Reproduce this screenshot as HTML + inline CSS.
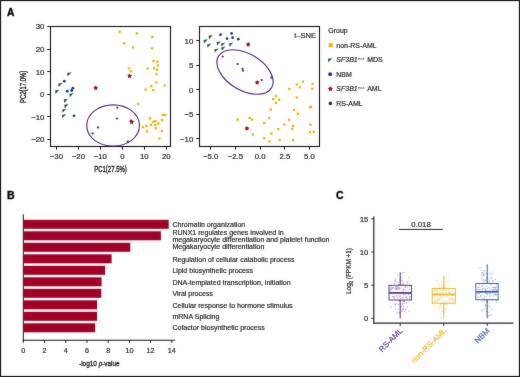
<!DOCTYPE html><html><head><meta charset="utf-8"><style>html,body{margin:0;padding:0;background:#fff;overflow:hidden}svg{display:block;will-change:transform}text{font-family:"Liberation Sans",sans-serif;fill:#1a1a1a;stroke:#1a1a1a;stroke-width:0.18px;paint-order:stroke}</style></head><body>
<svg width="520" height="377" viewBox="0 0 520 377"><defs><filter id="bl" x="0" y="0" width="520" height="377" filterUnits="userSpaceOnUse" color-interpolation-filters="sRGB"><feGaussianBlur in="SourceGraphic" stdDeviation="0.8" result="b"/><feComposite in="SourceGraphic" in2="b" operator="arithmetic" k1="0" k2="0.75" k3="0.25" k4="0"/></filter></defs><g filter="url(#bl)">
<rect x="0" y="0" width="520" height="377" fill="#fff"/>
<rect x="0.5" y="0.5" width="519" height="376" fill="none" stroke="#000" stroke-width="1.2"/>
<text x="7" y="16" font-size="10.3" font-weight="bold" style="fill:#000;stroke:#000;stroke-width:0.35px">A</text>
<text x="7" y="199" font-size="10.5" font-weight="bold" style="fill:#000;stroke:#000;stroke-width:0.35px">B</text>
<text x="336" y="199" font-size="10.5" font-weight="bold" style="fill:#000;stroke:#000;stroke-width:0.35px">C</text>
<rect x="50.5" y="26.5" width="120" height="120" fill="none" stroke="#111" stroke-width="1.1"/>
<line x1="47.3" y1="26.50" x2="50.5" y2="26.50" stroke="#111" stroke-width="1"/>
<text x="44.4" y="29.42" font-size="7.8" text-anchor="end">30</text>
<line x1="47.3" y1="49.50" x2="50.5" y2="49.50" stroke="#111" stroke-width="1"/>
<text x="44.4" y="51.98" font-size="7.8" text-anchor="end">20</text>
<line x1="47.3" y1="71.50" x2="50.5" y2="71.50" stroke="#111" stroke-width="1"/>
<text x="44.4" y="74.54" font-size="7.8" text-anchor="end">10</text>
<line x1="47.3" y1="94.50" x2="50.5" y2="94.50" stroke="#111" stroke-width="1"/>
<text x="44.4" y="97.10" font-size="7.8" text-anchor="end">0</text>
<line x1="47.3" y1="116.50" x2="50.5" y2="116.50" stroke="#111" stroke-width="1"/>
<text x="44.4" y="119.66" font-size="7.8" text-anchor="end">−10</text>
<line x1="47.3" y1="139.50" x2="50.5" y2="139.50" stroke="#111" stroke-width="1"/>
<text x="44.4" y="142.22" font-size="7.8" text-anchor="end">−20</text>
<line x1="56.50" y1="146.5" x2="56.50" y2="149.7" stroke="#111" stroke-width="1"/>
<text x="56.42" y="159.4" font-size="7.8" text-anchor="middle">−30</text>
<line x1="78.50" y1="146.5" x2="78.50" y2="149.7" stroke="#111" stroke-width="1"/>
<text x="78.38" y="159.4" font-size="7.8" text-anchor="middle">−20</text>
<line x1="100.50" y1="146.5" x2="100.50" y2="149.7" stroke="#111" stroke-width="1"/>
<text x="100.34" y="159.4" font-size="7.8" text-anchor="middle">−10</text>
<line x1="122.50" y1="146.5" x2="122.50" y2="149.7" stroke="#111" stroke-width="1"/>
<text x="122.30" y="159.4" font-size="7.8" text-anchor="middle">0</text>
<line x1="144.50" y1="146.5" x2="144.50" y2="149.7" stroke="#111" stroke-width="1"/>
<text x="144.26" y="159.4" font-size="7.8" text-anchor="middle">10</text>
<line x1="166.50" y1="146.5" x2="166.50" y2="149.7" stroke="#111" stroke-width="1"/>
<text x="166.22" y="159.4" font-size="7.8" text-anchor="middle">20</text>
<text x="110.5" y="171.8" font-size="8.3" textLength="32.5" lengthAdjust="spacingAndGlyphs" text-anchor="middle" style="stroke-width:0.35px">PC1(27.5%)</text>
<text transform="translate(26.2,86.8) rotate(-90)" x="0" y="0" font-size="8.3" textLength="32.2" lengthAdjust="spacingAndGlyphs" text-anchor="middle" style="stroke-width:0.35px">PC2(17.0%)</text>
<ellipse cx="113.1" cy="125.5" rx="26.4" ry="20.6" fill="none" stroke="#4E2272" stroke-width="1.1"/>
<rect x="118.65" y="30.65" width="2.30" height="2.30" fill="#E8B000"/>
<rect x="135.65" y="32.25" width="2.30" height="2.30" fill="#E8B000"/>
<rect x="151.25" y="35.65" width="2.30" height="2.30" fill="#E8B000"/>
<rect x="123.05" y="42.15" width="2.30" height="2.30" fill="#E8B000"/>
<rect x="131.95" y="46.25" width="2.30" height="2.30" fill="#E8B000"/>
<rect x="150.95" y="47.05" width="2.30" height="2.30" fill="#E8B000"/>
<rect x="152.35" y="59.95" width="2.30" height="2.30" fill="#E8B000"/>
<rect x="156.15" y="60.65" width="2.30" height="2.30" fill="#E8B000"/>
<rect x="156.85" y="64.25" width="2.30" height="2.30" fill="#E8B000"/>
<rect x="146.45" y="67.35" width="2.30" height="2.30" fill="#E8B000"/>
<rect x="153.05" y="67.15" width="2.30" height="2.30" fill="#E8B000"/>
<rect x="155.85" y="68.65" width="2.30" height="2.30" fill="#E8B000"/>
<rect x="127.65" y="67.15" width="2.30" height="2.30" fill="#E8B000"/>
<rect x="129.75" y="70.15" width="2.30" height="2.30" fill="#E8B000"/>
<rect x="155.35" y="73.05" width="2.30" height="2.30" fill="#E8B000"/>
<rect x="155.25" y="81.25" width="2.30" height="2.30" fill="#E8B000"/>
<rect x="163.55" y="84.25" width="2.30" height="2.30" fill="#E8B000"/>
<rect x="150.15" y="84.95" width="2.30" height="2.30" fill="#E8B000"/>
<rect x="144.45" y="88.45" width="2.30" height="2.30" fill="#E8B000"/>
<rect x="152.15" y="89.05" width="2.30" height="2.30" fill="#E8B000"/>
<rect x="137.15" y="102.85" width="2.30" height="2.30" fill="#E8B000"/>
<rect x="161.85" y="113.85" width="2.30" height="2.30" fill="#E8B000"/>
<rect x="164.15" y="113.85" width="2.30" height="2.30" fill="#E8B000"/>
<rect x="148.95" y="117.25" width="2.30" height="2.30" fill="#E8B000"/>
<rect x="152.05" y="120.75" width="2.30" height="2.30" fill="#E8B000"/>
<rect x="154.35" y="119.95" width="2.30" height="2.30" fill="#E8B000"/>
<rect x="160.95" y="119.05" width="2.30" height="2.30" fill="#E8B000"/>
<rect x="157.25" y="122.35" width="2.30" height="2.30" fill="#E8B000"/>
<rect x="149.75" y="123.75" width="2.30" height="2.30" fill="#E8B000"/>
<rect x="154.05" y="123.85" width="2.30" height="2.30" fill="#E8B000"/>
<rect x="145.15" y="124.75" width="2.30" height="2.30" fill="#E8B000"/>
<rect x="141.85" y="126.05" width="2.30" height="2.30" fill="#E8B000"/>
<rect x="154.55" y="126.95" width="2.30" height="2.30" fill="#E8B000"/>
<rect x="145.75" y="130.25" width="2.30" height="2.30" fill="#E8B000"/>
<rect x="160.75" y="129.85" width="2.30" height="2.30" fill="#E8B000"/>
<rect x="158.35" y="137.35" width="2.30" height="2.30" fill="#E8B000"/>
<polygon points="67.20,73.00 71.40,72.20 67.60,76.40" fill="#1A5334"/>
<polygon points="58.30,83.50 62.50,82.70 58.70,86.90" fill="#1A5334"/>
<polygon points="55.10,90.60 59.30,89.80 55.50,94.00" fill="#1A5334"/>
<polygon points="69.40,93.90 73.60,93.10 69.80,97.30" fill="#1A5334"/>
<polygon points="63.80,99.50 68.00,98.70 64.20,102.90" fill="#1A5334"/>
<polygon points="64.30,104.80 68.50,104.00 64.70,108.20" fill="#1A5334"/>
<polygon points="62.20,109.40 66.40,108.60 62.60,112.80" fill="#1A5334"/>
<polygon points="62.00,114.90 66.20,114.10 62.40,118.30" fill="#1A5334"/>
<circle cx="64.30" cy="81.20" r="1.38" fill="#18307E"/>
<circle cx="67.30" cy="91.20" r="1.38" fill="#18307E"/>
<circle cx="72.80" cy="88.20" r="1.38" fill="#18307E"/>
<circle cx="71.70" cy="90.50" r="1.38" fill="#18307E"/>
<circle cx="74.00" cy="115.80" r="1.38" fill="#18307E"/>
<circle cx="117.30" cy="107.70" r="1.05" fill="#4A1B6A"/>
<circle cx="116.90" cy="118.50" r="1.05" fill="#4A1B6A"/>
<circle cx="98.00" cy="127.40" r="1.05" fill="#4A1B6A"/>
<circle cx="92.60" cy="133.40" r="1.05" fill="#4A1B6A"/>
<circle cx="127.80" cy="141.50" r="1.05" fill="#4A1B6A"/>
<circle cx="131.00" cy="120.60" r="1.05" fill="#4A1B6A"/>
<polygon points="95.70,85.45 96.59,86.67 98.03,87.14 97.14,88.37 97.14,89.88 95.70,89.42 94.26,89.88 94.26,88.37 93.37,87.14 94.81,86.67" fill="#AC001E"/>
<polygon points="129.60,73.45 130.49,74.67 131.93,75.14 131.04,76.37 131.04,77.88 129.60,77.42 128.16,77.88 128.16,76.37 127.27,75.14 128.71,74.67" fill="#AC001E"/>
<polygon points="131.70,119.55 132.59,120.77 134.03,121.24 133.14,122.47 133.14,123.98 131.70,123.52 130.26,123.98 130.26,122.47 129.37,121.24 130.81,120.77" fill="#AC001E"/>
<rect x="199.5" y="26.5" width="120" height="120" fill="none" stroke="#111" stroke-width="1.1"/>
<line x1="196.3" y1="40.50" x2="199.5" y2="40.50" stroke="#111" stroke-width="1"/>
<text x="193.3" y="43.79" font-size="7.8" text-anchor="end">10</text>
<line x1="196.3" y1="65.50" x2="199.5" y2="65.50" stroke="#111" stroke-width="1"/>
<text x="193.3" y="68.25" font-size="7.8" text-anchor="end">5</text>
<line x1="196.3" y1="89.50" x2="199.5" y2="89.50" stroke="#111" stroke-width="1"/>
<text x="193.3" y="92.70" font-size="7.8" text-anchor="end">0</text>
<line x1="196.3" y1="114.50" x2="199.5" y2="114.50" stroke="#111" stroke-width="1"/>
<text x="193.3" y="117.16" font-size="7.8" text-anchor="end">−5</text>
<line x1="196.3" y1="138.50" x2="199.5" y2="138.50" stroke="#111" stroke-width="1"/>
<text x="193.3" y="141.61" font-size="7.8" text-anchor="end">−10</text>
<line x1="210.50" y1="146.5" x2="210.50" y2="149.7" stroke="#111" stroke-width="1"/>
<text x="210.70" y="159.4" font-size="7.8" text-anchor="middle">−5.0</text>
<line x1="235.50" y1="146.5" x2="235.50" y2="149.7" stroke="#111" stroke-width="1"/>
<text x="235.40" y="159.4" font-size="7.8" text-anchor="middle">−2.5</text>
<line x1="260.50" y1="146.5" x2="260.50" y2="149.7" stroke="#111" stroke-width="1"/>
<text x="260.10" y="159.4" font-size="7.8" text-anchor="middle">0.0</text>
<line x1="284.50" y1="146.5" x2="284.50" y2="149.7" stroke="#111" stroke-width="1"/>
<text x="284.80" y="159.4" font-size="7.8" text-anchor="middle">2.5</text>
<line x1="309.50" y1="146.5" x2="309.50" y2="149.7" stroke="#111" stroke-width="1"/>
<text x="309.50" y="159.4" font-size="7.8" text-anchor="middle">5.0</text>
<text x="316" y="37.8" font-size="7.5" text-anchor="end">t–SNE</text>
<ellipse cx="245" cy="72" rx="30.9" ry="18.3" transform="rotate(30.9 245 72)" fill="none" stroke="#4E2272" stroke-width="1.1"/>
<rect x="236.35" y="118.55" width="2.30" height="2.30" fill="#E8B000"/>
<rect x="248.45" y="116.75" width="2.30" height="2.30" fill="#E8B000"/>
<rect x="250.85" y="118.45" width="2.30" height="2.30" fill="#E8B000"/>
<rect x="251.65" y="133.35" width="2.30" height="2.30" fill="#E8B000"/>
<rect x="263.05" y="121.85" width="2.30" height="2.30" fill="#E8B000"/>
<rect x="263.05" y="137.05" width="2.30" height="2.30" fill="#E8B000"/>
<rect x="268.05" y="116.95" width="2.30" height="2.30" fill="#E8B000"/>
<rect x="268.05" y="140.15" width="2.30" height="2.30" fill="#E8B000"/>
<rect x="269.55" y="108.45" width="2.30" height="2.30" fill="#E8B000"/>
<rect x="270.35" y="132.35" width="2.30" height="2.30" fill="#E8B000"/>
<rect x="272.05" y="97.85" width="2.30" height="2.30" fill="#E8B000"/>
<rect x="274.75" y="95.05" width="2.30" height="2.30" fill="#E8B000"/>
<rect x="278.05" y="98.65" width="2.30" height="2.30" fill="#E8B000"/>
<rect x="274.75" y="101.85" width="2.30" height="2.30" fill="#E8B000"/>
<rect x="277.05" y="128.05" width="2.30" height="2.30" fill="#E8B000"/>
<rect x="278.55" y="138.95" width="2.30" height="2.30" fill="#E8B000"/>
<rect x="283.15" y="123.35" width="2.30" height="2.30" fill="#E8B000"/>
<rect x="287.75" y="118.75" width="2.30" height="2.30" fill="#E8B000"/>
<rect x="288.15" y="87.75" width="2.30" height="2.30" fill="#E8B000"/>
<rect x="291.15" y="127.65" width="2.30" height="2.30" fill="#E8B000"/>
<rect x="291.95" y="124.65" width="2.30" height="2.30" fill="#E8B000"/>
<rect x="292.05" y="138.95" width="2.30" height="2.30" fill="#E8B000"/>
<rect x="292.95" y="108.65" width="2.30" height="2.30" fill="#E8B000"/>
<rect x="295.55" y="83.35" width="2.30" height="2.30" fill="#E8B000"/>
<rect x="295.55" y="96.35" width="2.30" height="2.30" fill="#E8B000"/>
<rect x="296.75" y="112.65" width="2.30" height="2.30" fill="#E8B000"/>
<rect x="298.55" y="86.05" width="2.30" height="2.30" fill="#E8B000"/>
<rect x="301.75" y="80.55" width="2.30" height="2.30" fill="#E8B000"/>
<rect x="308.85" y="106.15" width="2.30" height="2.30" fill="#E8B000"/>
<rect x="309.95" y="105.65" width="2.30" height="2.30" fill="#E8B000"/>
<rect x="309.35" y="123.55" width="2.30" height="2.30" fill="#E8B000"/>
<rect x="308.85" y="131.05" width="2.30" height="2.30" fill="#E8B000"/>
<rect x="311.35" y="82.85" width="2.30" height="2.30" fill="#E8B000"/>
<rect x="311.15" y="87.65" width="2.30" height="2.30" fill="#E8B000"/>
<rect x="312.65" y="130.75" width="2.30" height="2.30" fill="#E8B000"/>
<polygon points="203.60,40.10 207.80,39.30 204.00,43.50" fill="#1A5334"/>
<polygon points="208.60,35.80 212.80,35.00 209.00,39.20" fill="#1A5334"/>
<polygon points="207.10,44.40 211.30,43.60 207.50,47.80" fill="#1A5334"/>
<polygon points="216.60,42.00 220.80,41.20 217.00,45.40" fill="#1A5334"/>
<polygon points="221.10,43.40 225.30,42.60 221.50,46.80" fill="#1A5334"/>
<polygon points="229.10,43.40 233.30,42.60 229.50,46.80" fill="#1A5334"/>
<polygon points="214.40,49.20 218.60,48.40 214.80,52.60" fill="#1A5334"/>
<polygon points="221.30,47.40 225.50,46.60 221.70,50.80" fill="#1A5334"/>
<circle cx="220.50" cy="34.70" r="1.38" fill="#18307E"/>
<circle cx="231.60" cy="33.40" r="1.38" fill="#18307E"/>
<circle cx="227.00" cy="38.60" r="1.38" fill="#18307E"/>
<circle cx="232.60" cy="37.70" r="1.38" fill="#18307E"/>
<circle cx="238.30" cy="39.20" r="1.38" fill="#18307E"/>
<circle cx="222.70" cy="56.50" r="1.05" fill="#4A1B6A"/>
<circle cx="237.70" cy="64.00" r="1.05" fill="#4A1B6A"/>
<circle cx="242.60" cy="68.90" r="1.05" fill="#4A1B6A"/>
<circle cx="243.10" cy="70.80" r="1.05" fill="#4A1B6A"/>
<circle cx="261.80" cy="80.10" r="1.05" fill="#4A1B6A"/>
<circle cx="271.30" cy="77.60" r="1.05" fill="#4A1B6A"/>
<polygon points="248.20,41.95 249.09,43.17 250.53,43.64 249.64,44.87 249.64,46.38 248.20,45.92 246.76,46.38 246.76,44.87 245.87,43.64 247.31,43.17" fill="#AC001E"/>
<polygon points="257.20,80.15 258.09,81.37 259.53,81.84 258.64,83.07 258.64,84.58 257.20,84.12 255.76,84.58 255.76,83.07 254.87,81.84 256.31,81.37" fill="#AC001E"/>
<polygon points="246.90,126.05 247.79,127.27 249.23,127.74 248.34,128.97 248.34,130.48 246.90,130.02 245.46,130.48 245.46,128.97 244.57,127.74 246.01,127.27" fill="#AC001E"/>
<text x="328.3" y="32.7" font-size="7">Group</text>
<rect x="328.70" y="43.20" width="4.00" height="4.00" fill="#E8B000"/>
<text x="336.3" y="47.60" font-size="7">non-RS-AML</text>
<polygon points="328.00,58.85 332.20,58.05 328.40,62.25" fill="#1A5334"/>
<text x="336.3" y="62.15" font-size="7" font-style="italic">SF3B1</text>
<text x="357.8" y="59.55" font-size="4" style="fill:#333;stroke:none">mut</text>
<text x="367.2" y="62.15" font-size="7">MDS</text>
<circle cx="330.20" cy="74.30" r="1.95" fill="#18307E"/>
<text x="336.3" y="76.70" font-size="7">NBM</text>
<polygon points="330.40,86.25 331.35,87.55 332.87,88.05 331.93,89.35 331.93,90.95 330.40,90.46 328.87,90.95 328.87,89.35 327.93,88.05 329.45,87.55" fill="#AC001E"/>
<text x="336.3" y="91.25" font-size="7" font-style="italic">SF3B1</text>
<text x="357.8" y="88.65" font-size="4" style="fill:#333;stroke:none">mut</text>
<text x="367.2" y="91.25" font-size="7">AML</text>
<circle cx="330.40" cy="103.40" r="1.80" fill="#4A1B6A"/>
<text x="336.3" y="105.80" font-size="7">RS-AML</text>
<rect x="23.8" y="219.80" width="144.90" height="9" fill="#A10026"/>
<rect x="23.8" y="231.30" width="137.10" height="9" fill="#A10026"/>
<rect x="23.8" y="242.80" width="106.50" height="9" fill="#A10026"/>
<rect x="23.8" y="254.30" width="87.80" height="9" fill="#A10026"/>
<rect x="23.8" y="265.80" width="81.30" height="9" fill="#A10026"/>
<rect x="23.8" y="277.30" width="77.80" height="9" fill="#A10026"/>
<rect x="23.8" y="288.80" width="77.50" height="9" fill="#A10026"/>
<rect x="23.8" y="300.30" width="73.20" height="9" fill="#A10026"/>
<rect x="23.8" y="311.80" width="73.20" height="9" fill="#A10026"/>
<rect x="23.8" y="323.30" width="71.30" height="9" fill="#A10026"/>
<line x1="23.3" y1="214.3" x2="23.3" y2="340.8" stroke="#111" stroke-width="1"/>
<line x1="22.8" y1="340.3" x2="174.8" y2="340.3" stroke="#111" stroke-width="1.1"/>
<line x1="23.30" y1="340.3" x2="23.30" y2="342.8" stroke="#111" stroke-width="1"/>
<text x="23.30" y="353" font-size="7.2" text-anchor="middle">0</text>
<line x1="44.52" y1="340.3" x2="44.52" y2="342.8" stroke="#111" stroke-width="1"/>
<text x="44.52" y="353" font-size="7.2" text-anchor="middle">2</text>
<line x1="65.74" y1="340.3" x2="65.74" y2="342.8" stroke="#111" stroke-width="1"/>
<text x="65.74" y="353" font-size="7.2" text-anchor="middle">4</text>
<line x1="86.96" y1="340.3" x2="86.96" y2="342.8" stroke="#111" stroke-width="1"/>
<text x="86.96" y="353" font-size="7.2" text-anchor="middle">6</text>
<line x1="108.18" y1="340.3" x2="108.18" y2="342.8" stroke="#111" stroke-width="1"/>
<text x="108.18" y="353" font-size="7.2" text-anchor="middle">8</text>
<line x1="129.40" y1="340.3" x2="129.40" y2="342.8" stroke="#111" stroke-width="1"/>
<text x="129.40" y="353" font-size="7.2" text-anchor="middle">10</text>
<line x1="150.62" y1="340.3" x2="150.62" y2="342.8" stroke="#111" stroke-width="1"/>
<text x="150.62" y="353" font-size="7.2" text-anchor="middle">12</text>
<line x1="171.84" y1="340.3" x2="171.84" y2="342.8" stroke="#111" stroke-width="1"/>
<text x="171.84" y="353" font-size="7.2" text-anchor="middle">14</text>
<text x="79" y="365.5" font-size="7.3" textLength="40.7" lengthAdjust="spacingAndGlyphs" style="stroke-width:0.3px">-log10 <tspan font-style="italic">p</tspan>-value</text>
<text x="172.4" y="226.60" font-size="7.05">Chromatin organization</text>
<text x="172.4" y="234.60" font-size="7.05">RUNX1 regulates genes involved in</text>
<text x="172.4" y="242.10" font-size="7.05">megakaryocyte differentiation and platelet function</text>
<text x="172.4" y="249.20" font-size="7.05">Megakaryocyte differentiation</text>
<text x="172.4" y="262.00" font-size="7.05">Regulation of cellular catabolic process</text>
<text x="172.4" y="273.00" font-size="7.05">Lipid biosynthetic process</text>
<text x="172.4" y="284.60" font-size="7.05">DNA-templated transcription, initiation</text>
<text x="172.4" y="296.00" font-size="7.05">Viral process</text>
<text x="172.4" y="307.70" font-size="7.05">Cellular response to hormone stimulus</text>
<text x="172.4" y="319.20" font-size="7.05">mRNA Splicing</text>
<text x="172.4" y="330.30" font-size="7.05">Cofactor biosynthetic process</text>
<line x1="373.8" y1="216.5" x2="373.8" y2="323.6" stroke="#222" stroke-width="1.2"/>
<line x1="373.2" y1="323.1" x2="513.4" y2="323.1" stroke="#222" stroke-width="1.2"/>
<line x1="371.4" y1="218.80" x2="373.8" y2="218.80" stroke="#222" stroke-width="1"/>
<text x="368.4" y="221.50" font-size="7.7" text-anchor="end">15</text>
<line x1="371.4" y1="252.00" x2="373.8" y2="252.00" stroke="#222" stroke-width="1"/>
<text x="368.4" y="254.70" font-size="7.7" text-anchor="end">10</text>
<line x1="371.4" y1="285.20" x2="373.8" y2="285.20" stroke="#222" stroke-width="1"/>
<text x="368.4" y="287.90" font-size="7.7" text-anchor="end">5</text>
<line x1="371.4" y1="318.40" x2="373.8" y2="318.40" stroke="#222" stroke-width="1"/>
<text x="368.4" y="321.10" font-size="7.7" text-anchor="end">0</text>
<text transform="translate(351.2,271) rotate(-90)" font-size="7" text-anchor="middle" textLength="46" lengthAdjust="spacingAndGlyphs">Log<tspan font-size="4.5" dy="1.5">2</tspan><tspan dy="-1.5"> (FPKM +1)</tspan></text>
<line x1="399" y1="229.4" x2="443" y2="229.4" stroke="#222" stroke-width="1"/>
<text x="421" y="227.2" font-size="7.8" text-anchor="middle">0.018</text>
<line x1="400.20" y1="323.1" x2="400.20" y2="326" stroke="#222" stroke-width="1"/>
<rect x="402.72" y="287.72" width="1" height="1" fill="#7A5CA0" opacity="0.6"/>
<rect x="397.01" y="292.61" width="1" height="1" fill="#7A5CA0" opacity="0.6"/>
<rect x="390.45" y="292.24" width="1" height="1" fill="#7A5CA0" opacity="0.6"/>
<rect x="391.51" y="286.69" width="1" height="1" fill="#7A5CA0" opacity="0.6"/>
<rect x="392.18" y="296.30" width="1" height="1" fill="#7A5CA0" opacity="0.6"/>
<rect x="408.65" y="293.77" width="1" height="1" fill="#7A5CA0" opacity="0.6"/>
<rect x="408.22" y="310.55" width="1" height="1" fill="#7A5CA0" opacity="0.6"/>
<rect x="392.06" y="287.63" width="1" height="1" fill="#7A5CA0" opacity="0.6"/>
<rect x="393.31" y="296.16" width="1" height="1" fill="#7A5CA0" opacity="0.6"/>
<rect x="398.15" y="284.28" width="1" height="1" fill="#7A5CA0" opacity="0.6"/>
<rect x="403.31" y="288.42" width="1" height="1" fill="#7A5CA0" opacity="0.6"/>
<rect x="401.41" y="289.79" width="1" height="1" fill="#7A5CA0" opacity="0.6"/>
<rect x="405.59" y="289.61" width="1" height="1" fill="#7A5CA0" opacity="0.6"/>
<rect x="390.64" y="306.74" width="1" height="1" fill="#7A5CA0" opacity="0.6"/>
<rect x="402.86" y="300.82" width="1" height="1" fill="#7A5CA0" opacity="0.6"/>
<rect x="403.96" y="299.75" width="1" height="1" fill="#7A5CA0" opacity="0.6"/>
<rect x="404.99" y="294.29" width="1" height="1" fill="#7A5CA0" opacity="0.6"/>
<rect x="395.35" y="278.52" width="1" height="1" fill="#7A5CA0" opacity="0.6"/>
<rect x="397.96" y="304.10" width="1" height="1" fill="#7A5CA0" opacity="0.6"/>
<rect x="402.30" y="308.24" width="1" height="1" fill="#7A5CA0" opacity="0.6"/>
<rect x="399.34" y="312.77" width="1" height="1" fill="#7A5CA0" opacity="0.6"/>
<rect x="403.07" y="290.70" width="1" height="1" fill="#7A5CA0" opacity="0.6"/>
<rect x="393.06" y="291.66" width="1" height="1" fill="#7A5CA0" opacity="0.6"/>
<rect x="405.06" y="286.55" width="1" height="1" fill="#7A5CA0" opacity="0.6"/>
<rect x="397.52" y="288.94" width="1" height="1" fill="#7A5CA0" opacity="0.6"/>
<rect x="402.08" y="302.88" width="1" height="1" fill="#7A5CA0" opacity="0.6"/>
<rect x="406.09" y="297.02" width="1" height="1" fill="#7A5CA0" opacity="0.6"/>
<rect x="393.80" y="303.59" width="1" height="1" fill="#7A5CA0" opacity="0.6"/>
<rect x="401.33" y="310.07" width="1" height="1" fill="#7A5CA0" opacity="0.6"/>
<rect x="399.40" y="288.76" width="1" height="1" fill="#7A5CA0" opacity="0.6"/>
<rect x="401.81" y="283.20" width="1" height="1" fill="#7A5CA0" opacity="0.6"/>
<rect x="397.70" y="308.49" width="1" height="1" fill="#7A5CA0" opacity="0.6"/>
<rect x="403.22" y="293.64" width="1" height="1" fill="#7A5CA0" opacity="0.6"/>
<rect x="405.30" y="297.22" width="1" height="1" fill="#7A5CA0" opacity="0.6"/>
<rect x="398.01" y="281.94" width="1" height="1" fill="#7A5CA0" opacity="0.6"/>
<rect x="402.25" y="300.79" width="1" height="1" fill="#7A5CA0" opacity="0.6"/>
<rect x="401.98" y="296.90" width="1" height="1" fill="#7A5CA0" opacity="0.6"/>
<rect x="396.65" y="289.00" width="1" height="1" fill="#7A5CA0" opacity="0.6"/>
<rect x="406.68" y="287.36" width="1" height="1" fill="#7A5CA0" opacity="0.6"/>
<rect x="400.80" y="280.06" width="1" height="1" fill="#7A5CA0" opacity="0.6"/>
<rect x="396.55" y="287.10" width="1" height="1" fill="#7A5CA0" opacity="0.6"/>
<rect x="392.93" y="296.33" width="1" height="1" fill="#7A5CA0" opacity="0.6"/>
<rect x="400.27" y="297.88" width="1" height="1" fill="#7A5CA0" opacity="0.6"/>
<rect x="390.24" y="292.70" width="1" height="1" fill="#7A5CA0" opacity="0.6"/>
<rect x="406.97" y="298.23" width="1" height="1" fill="#7A5CA0" opacity="0.6"/>
<rect x="403.55" y="302.87" width="1" height="1" fill="#7A5CA0" opacity="0.6"/>
<rect x="396.29" y="295.69" width="1" height="1" fill="#7A5CA0" opacity="0.6"/>
<rect x="409.40" y="296.11" width="1" height="1" fill="#7A5CA0" opacity="0.6"/>
<rect x="402.57" y="308.77" width="1" height="1" fill="#7A5CA0" opacity="0.6"/>
<rect x="400.49" y="273.37" width="1" height="1" fill="#7A5CA0" opacity="0.6"/>
<rect x="390.26" y="286.17" width="1" height="1" fill="#7A5CA0" opacity="0.6"/>
<rect x="403.55" y="289.09" width="1" height="1" fill="#7A5CA0" opacity="0.6"/>
<rect x="389.69" y="305.51" width="1" height="1" fill="#7A5CA0" opacity="0.6"/>
<rect x="403.82" y="300.80" width="1" height="1" fill="#7A5CA0" opacity="0.6"/>
<rect x="393.63" y="288.68" width="1" height="1" fill="#7A5CA0" opacity="0.6"/>
<rect x="407.71" y="293.73" width="1" height="1" fill="#7A5CA0" opacity="0.6"/>
<rect x="400.54" y="276.56" width="1" height="1" fill="#7A5CA0" opacity="0.6"/>
<rect x="403.06" y="306.30" width="1" height="1" fill="#7A5CA0" opacity="0.6"/>
<rect x="396.90" y="274.49" width="1" height="1" fill="#7A5CA0" opacity="0.6"/>
<rect x="406.72" y="282.63" width="1" height="1" fill="#7A5CA0" opacity="0.6"/>
<rect x="402.48" y="283.58" width="1" height="1" fill="#7A5CA0" opacity="0.6"/>
<rect x="395.11" y="308.84" width="1" height="1" fill="#7A5CA0" opacity="0.6"/>
<rect x="409.31" y="296.30" width="1" height="1" fill="#7A5CA0" opacity="0.6"/>
<rect x="404.28" y="284.23" width="1" height="1" fill="#7A5CA0" opacity="0.6"/>
<rect x="409.12" y="285.98" width="1" height="1" fill="#7A5CA0" opacity="0.6"/>
<rect x="403.38" y="272.05" width="1" height="1" fill="#7A5CA0" opacity="0.6"/>
<rect x="398.81" y="300.51" width="1" height="1" fill="#7A5CA0" opacity="0.6"/>
<rect x="399.42" y="300.25" width="1" height="1" fill="#7A5CA0" opacity="0.6"/>
<rect x="396.78" y="297.36" width="1" height="1" fill="#7A5CA0" opacity="0.6"/>
<rect x="407.79" y="293.21" width="1" height="1" fill="#7A5CA0" opacity="0.6"/>
<rect x="399.73" y="297.46" width="1" height="1" fill="#7A5CA0" opacity="0.6"/>
<rect x="390.07" y="292.45" width="1" height="1" fill="#7A5CA0" opacity="0.6"/>
<rect x="389.78" y="288.13" width="1" height="1" fill="#7A5CA0" opacity="0.6"/>
<rect x="402.09" y="303.82" width="1" height="1" fill="#7A5CA0" opacity="0.6"/>
<rect x="395.95" y="303.38" width="1" height="1" fill="#7A5CA0" opacity="0.6"/>
<rect x="405.39" y="292.85" width="1" height="1" fill="#7A5CA0" opacity="0.6"/>
<rect x="394.67" y="292.92" width="1" height="1" fill="#7A5CA0" opacity="0.6"/>
<rect x="399.85" y="295.61" width="1" height="1" fill="#7A5CA0" opacity="0.6"/>
<rect x="401.86" y="278.24" width="1" height="1" fill="#7A5CA0" opacity="0.6"/>
<rect x="403.55" y="292.30" width="1" height="1" fill="#7A5CA0" opacity="0.6"/>
<rect x="399.26" y="292.57" width="1" height="1" fill="#7A5CA0" opacity="0.6"/>
<rect x="398.46" y="300.35" width="1" height="1" fill="#7A5CA0" opacity="0.6"/>
<rect x="396.69" y="312.09" width="1" height="1" fill="#7A5CA0" opacity="0.6"/>
<rect x="398.54" y="287.34" width="1" height="1" fill="#7A5CA0" opacity="0.6"/>
<rect x="391.16" y="288.86" width="1" height="1" fill="#7A5CA0" opacity="0.6"/>
<rect x="405.59" y="302.24" width="1" height="1" fill="#7A5CA0" opacity="0.6"/>
<rect x="406.99" y="306.56" width="1" height="1" fill="#7A5CA0" opacity="0.6"/>
<rect x="402.80" y="282.22" width="1" height="1" fill="#7A5CA0" opacity="0.6"/>
<rect x="401.96" y="280.39" width="1" height="1" fill="#7A5CA0" opacity="0.6"/>
<rect x="396.07" y="288.29" width="1" height="1" fill="#7A5CA0" opacity="0.6"/>
<rect x="400.40" y="306.24" width="1" height="1" fill="#7A5CA0" opacity="0.6"/>
<rect x="396.33" y="286.03" width="1" height="1" fill="#7A5CA0" opacity="0.6"/>
<rect x="398.96" y="311.66" width="1" height="1" fill="#7A5CA0" opacity="0.6"/>
<rect x="401.62" y="310.88" width="1" height="1" fill="#7A5CA0" opacity="0.6"/>
<rect x="398.15" y="287.45" width="1" height="1" fill="#7A5CA0" opacity="0.6"/>
<rect x="405.67" y="284.69" width="1" height="1" fill="#7A5CA0" opacity="0.6"/>
<rect x="399.10" y="312.26" width="1" height="1" fill="#7A5CA0" opacity="0.6"/>
<rect x="398.21" y="294.54" width="1" height="1" fill="#7A5CA0" opacity="0.6"/>
<rect x="402.39" y="297.72" width="1" height="1" fill="#7A5CA0" opacity="0.6"/>
<rect x="404.15" y="311.09" width="1" height="1" fill="#7A5CA0" opacity="0.6"/>
<rect x="398.78" y="296.76" width="1" height="1" fill="#7A5CA0" opacity="0.6"/>
<rect x="408.23" y="292.82" width="1" height="1" fill="#7A5CA0" opacity="0.6"/>
<rect x="400.24" y="287.44" width="1" height="1" fill="#7A5CA0" opacity="0.6"/>
<rect x="392.93" y="287.19" width="1" height="1" fill="#7A5CA0" opacity="0.6"/>
<rect x="395.94" y="288.36" width="1" height="1" fill="#7A5CA0" opacity="0.6"/>
<rect x="395.50" y="295.45" width="1" height="1" fill="#7A5CA0" opacity="0.6"/>
<rect x="396.64" y="288.06" width="1" height="1" fill="#7A5CA0" opacity="0.6"/>
<rect x="390.01" y="288.98" width="1" height="1" fill="#7A5CA0" opacity="0.6"/>
<rect x="404.85" y="308.33" width="1" height="1" fill="#7A5CA0" opacity="0.6"/>
<rect x="406.39" y="292.09" width="1" height="1" fill="#7A5CA0" opacity="0.6"/>
<rect x="403.45" y="292.23" width="1" height="1" fill="#7A5CA0" opacity="0.6"/>
<rect x="406.80" y="280.99" width="1" height="1" fill="#7A5CA0" opacity="0.6"/>
<rect x="398.83" y="283.97" width="1" height="1" fill="#7A5CA0" opacity="0.6"/>
<rect x="404.52" y="286.70" width="1" height="1" fill="#7A5CA0" opacity="0.6"/>
<rect x="391.39" y="287.87" width="1" height="1" fill="#7A5CA0" opacity="0.6"/>
<rect x="394.83" y="303.64" width="1" height="1" fill="#7A5CA0" opacity="0.6"/>
<rect x="395.56" y="288.88" width="1" height="1" fill="#7A5CA0" opacity="0.6"/>
<rect x="398.62" y="287.80" width="1" height="1" fill="#7A5CA0" opacity="0.6"/>
<rect x="409.15" y="298.01" width="1" height="1" fill="#7A5CA0" opacity="0.6"/>
<rect x="409.01" y="288.90" width="1" height="1" fill="#7A5CA0" opacity="0.6"/>
<rect x="389.72" y="290.33" width="1" height="1" fill="#7A5CA0" opacity="0.6"/>
<rect x="399.76" y="291.83" width="1" height="1" fill="#7A5CA0" opacity="0.6"/>
<rect x="389.80" y="292.21" width="1" height="1" fill="#7A5CA0" opacity="0.6"/>
<rect x="397.69" y="286.94" width="1" height="1" fill="#7A5CA0" opacity="0.6"/>
<rect x="395.78" y="286.09" width="1" height="1" fill="#7A5CA0" opacity="0.6"/>
<rect x="400.28" y="293.24" width="1" height="1" fill="#7A5CA0" opacity="0.6"/>
<rect x="393.73" y="282.84" width="1" height="1" fill="#7A5CA0" opacity="0.6"/>
<rect x="407.93" y="276.85" width="1" height="1" fill="#7A5CA0" opacity="0.6"/>
<rect x="394.45" y="279.96" width="1" height="1" fill="#7A5CA0" opacity="0.6"/>
<rect x="403.91" y="300.97" width="1" height="1" fill="#7A5CA0" opacity="0.6"/>
<rect x="405.79" y="296.40" width="1" height="1" fill="#7A5CA0" opacity="0.6"/>
<rect x="394.91" y="272.36" width="1" height="1" fill="#7A5CA0" opacity="0.6"/>
<rect x="394.76" y="299.61" width="1" height="1" fill="#7A5CA0" opacity="0.6"/>
<rect x="394.86" y="280.76" width="1" height="1" fill="#7A5CA0" opacity="0.6"/>
<rect x="405.65" y="285.84" width="1" height="1" fill="#7A5CA0" opacity="0.6"/>
<rect x="399.60" y="278.82" width="1" height="1" fill="#7A5CA0" opacity="0.6"/>
<rect x="402.66" y="308.81" width="1" height="1" fill="#7A5CA0" opacity="0.6"/>
<rect x="395.01" y="286.75" width="1" height="1" fill="#7A5CA0" opacity="0.6"/>
<rect x="404.89" y="309.70" width="1" height="1" fill="#7A5CA0" opacity="0.6"/>
<rect x="403.37" y="291.88" width="1" height="1" fill="#7A5CA0" opacity="0.6"/>
<rect x="395.37" y="280.72" width="1" height="1" fill="#7A5CA0" opacity="0.6"/>
<rect x="394.78" y="287.67" width="1" height="1" fill="#7A5CA0" opacity="0.6"/>
<rect x="401.29" y="305.79" width="1" height="1" fill="#7A5CA0" opacity="0.6"/>
<rect x="403.54" y="294.33" width="1" height="1" fill="#7A5CA0" opacity="0.6"/>
<rect x="394.78" y="305.20" width="1" height="1" fill="#7A5CA0" opacity="0.6"/>
<rect x="393.69" y="297.15" width="1" height="1" fill="#7A5CA0" opacity="0.6"/>
<rect x="401.82" y="272.75" width="1" height="1" fill="#7A5CA0" opacity="0.6"/>
<rect x="400.81" y="284.15" width="1" height="1" fill="#7A5CA0" opacity="0.6"/>
<rect x="393.91" y="297.81" width="1" height="1" fill="#7A5CA0" opacity="0.6"/>
<rect x="403.96" y="300.81" width="1" height="1" fill="#7A5CA0" opacity="0.6"/>
<line x1="400.20" y1="272.30" x2="400.20" y2="285.30" stroke="#5E3C88" stroke-width="1.1"/>
<line x1="400.20" y1="300.00" x2="400.20" y2="318.40" stroke="#5E3C88" stroke-width="1.1"/>
<rect x="389.00" y="285.30" width="22.50" height="14.70" fill="none" stroke="#5E3C88" stroke-width="1.0"/>
<line x1="389.00" y1="292.90" x2="411.50" y2="292.90" stroke="#5E3C88" stroke-width="1.8"/>
<line x1="443.80" y1="323.1" x2="443.80" y2="326" stroke="#222" stroke-width="1"/>
<rect x="449.47" y="306.52" width="1" height="1" fill="#E8C048" opacity="0.6"/>
<rect x="447.37" y="300.27" width="1" height="1" fill="#E8C048" opacity="0.6"/>
<rect x="443.02" y="300.41" width="1" height="1" fill="#E8C048" opacity="0.6"/>
<rect x="443.13" y="289.15" width="1" height="1" fill="#E8C048" opacity="0.6"/>
<rect x="436.11" y="292.90" width="1" height="1" fill="#E8C048" opacity="0.6"/>
<rect x="450.10" y="293.08" width="1" height="1" fill="#E8C048" opacity="0.6"/>
<rect x="450.08" y="298.56" width="1" height="1" fill="#E8C048" opacity="0.6"/>
<rect x="447.56" y="300.77" width="1" height="1" fill="#E8C048" opacity="0.6"/>
<rect x="432.30" y="303.39" width="1" height="1" fill="#E8C048" opacity="0.6"/>
<rect x="440.25" y="316.96" width="1" height="1" fill="#E8C048" opacity="0.6"/>
<rect x="435.33" y="289.71" width="1" height="1" fill="#E8C048" opacity="0.6"/>
<rect x="443.32" y="316.94" width="1" height="1" fill="#E8C048" opacity="0.6"/>
<rect x="440.77" y="291.49" width="1" height="1" fill="#E8C048" opacity="0.6"/>
<rect x="437.83" y="307.72" width="1" height="1" fill="#E8C048" opacity="0.6"/>
<rect x="437.76" y="314.44" width="1" height="1" fill="#E8C048" opacity="0.6"/>
<rect x="434.29" y="298.17" width="1" height="1" fill="#E8C048" opacity="0.6"/>
<rect x="445.59" y="278.00" width="1" height="1" fill="#E8C048" opacity="0.6"/>
<rect x="444.02" y="284.92" width="1" height="1" fill="#E8C048" opacity="0.6"/>
<rect x="452.83" y="298.41" width="1" height="1" fill="#E8C048" opacity="0.6"/>
<rect x="439.32" y="297.37" width="1" height="1" fill="#E8C048" opacity="0.6"/>
<rect x="440.36" y="303.78" width="1" height="1" fill="#E8C048" opacity="0.6"/>
<rect x="453.23" y="300.52" width="1" height="1" fill="#E8C048" opacity="0.6"/>
<rect x="437.15" y="290.86" width="1" height="1" fill="#E8C048" opacity="0.6"/>
<rect x="435.12" y="293.41" width="1" height="1" fill="#E8C048" opacity="0.6"/>
<rect x="444.69" y="292.36" width="1" height="1" fill="#E8C048" opacity="0.6"/>
<rect x="438.60" y="283.63" width="1" height="1" fill="#E8C048" opacity="0.6"/>
<rect x="434.54" y="293.36" width="1" height="1" fill="#E8C048" opacity="0.6"/>
<rect x="435.82" y="301.29" width="1" height="1" fill="#E8C048" opacity="0.6"/>
<rect x="450.56" y="297.03" width="1" height="1" fill="#E8C048" opacity="0.6"/>
<rect x="438.27" y="292.51" width="1" height="1" fill="#E8C048" opacity="0.6"/>
<rect x="452.38" y="294.72" width="1" height="1" fill="#E8C048" opacity="0.6"/>
<rect x="444.72" y="309.48" width="1" height="1" fill="#E8C048" opacity="0.6"/>
<rect x="444.30" y="280.82" width="1" height="1" fill="#E8C048" opacity="0.6"/>
<rect x="451.84" y="294.03" width="1" height="1" fill="#E8C048" opacity="0.6"/>
<rect x="433.80" y="310.55" width="1" height="1" fill="#E8C048" opacity="0.6"/>
<rect x="436.39" y="290.47" width="1" height="1" fill="#E8C048" opacity="0.6"/>
<rect x="452.13" y="297.69" width="1" height="1" fill="#E8C048" opacity="0.6"/>
<rect x="437.18" y="283.72" width="1" height="1" fill="#E8C048" opacity="0.6"/>
<rect x="434.09" y="296.05" width="1" height="1" fill="#E8C048" opacity="0.6"/>
<rect x="440.96" y="316.44" width="1" height="1" fill="#E8C048" opacity="0.6"/>
<rect x="446.03" y="292.27" width="1" height="1" fill="#E8C048" opacity="0.6"/>
<rect x="444.61" y="287.23" width="1" height="1" fill="#E8C048" opacity="0.6"/>
<rect x="441.06" y="296.44" width="1" height="1" fill="#E8C048" opacity="0.6"/>
<rect x="433.51" y="296.67" width="1" height="1" fill="#E8C048" opacity="0.6"/>
<rect x="452.48" y="294.90" width="1" height="1" fill="#E8C048" opacity="0.6"/>
<rect x="443.62" y="286.39" width="1" height="1" fill="#E8C048" opacity="0.6"/>
<rect x="448.54" y="285.74" width="1" height="1" fill="#E8C048" opacity="0.6"/>
<rect x="444.97" y="287.21" width="1" height="1" fill="#E8C048" opacity="0.6"/>
<rect x="444.17" y="302.92" width="1" height="1" fill="#E8C048" opacity="0.6"/>
<rect x="437.26" y="297.70" width="1" height="1" fill="#E8C048" opacity="0.6"/>
<rect x="446.61" y="282.11" width="1" height="1" fill="#E8C048" opacity="0.6"/>
<rect x="437.92" y="299.43" width="1" height="1" fill="#E8C048" opacity="0.6"/>
<rect x="439.20" y="298.68" width="1" height="1" fill="#E8C048" opacity="0.6"/>
<rect x="443.38" y="287.53" width="1" height="1" fill="#E8C048" opacity="0.6"/>
<rect x="446.61" y="294.35" width="1" height="1" fill="#E8C048" opacity="0.6"/>
<rect x="444.96" y="303.34" width="1" height="1" fill="#E8C048" opacity="0.6"/>
<rect x="438.42" y="306.15" width="1" height="1" fill="#E8C048" opacity="0.6"/>
<rect x="452.99" y="303.28" width="1" height="1" fill="#E8C048" opacity="0.6"/>
<rect x="444.62" y="308.55" width="1" height="1" fill="#E8C048" opacity="0.6"/>
<rect x="439.93" y="293.81" width="1" height="1" fill="#E8C048" opacity="0.6"/>
<rect x="438.90" y="289.14" width="1" height="1" fill="#E8C048" opacity="0.6"/>
<rect x="435.77" y="301.14" width="1" height="1" fill="#E8C048" opacity="0.6"/>
<rect x="446.93" y="303.10" width="1" height="1" fill="#E8C048" opacity="0.6"/>
<rect x="442.77" y="289.72" width="1" height="1" fill="#E8C048" opacity="0.6"/>
<rect x="437.16" y="300.69" width="1" height="1" fill="#E8C048" opacity="0.6"/>
<rect x="433.91" y="300.40" width="1" height="1" fill="#E8C048" opacity="0.6"/>
<rect x="448.63" y="299.33" width="1" height="1" fill="#E8C048" opacity="0.6"/>
<rect x="434.55" y="289.54" width="1" height="1" fill="#E8C048" opacity="0.6"/>
<rect x="442.97" y="277.19" width="1" height="1" fill="#E8C048" opacity="0.6"/>
<rect x="441.40" y="310.65" width="1" height="1" fill="#E8C048" opacity="0.6"/>
<rect x="443.24" y="285.43" width="1" height="1" fill="#E8C048" opacity="0.6"/>
<rect x="440.10" y="306.33" width="1" height="1" fill="#E8C048" opacity="0.6"/>
<rect x="442.03" y="303.52" width="1" height="1" fill="#E8C048" opacity="0.6"/>
<rect x="443.17" y="294.52" width="1" height="1" fill="#E8C048" opacity="0.6"/>
<rect x="442.70" y="310.52" width="1" height="1" fill="#E8C048" opacity="0.6"/>
<rect x="440.80" y="287.00" width="1" height="1" fill="#E8C048" opacity="0.6"/>
<rect x="448.94" y="293.66" width="1" height="1" fill="#E8C048" opacity="0.6"/>
<rect x="448.36" y="291.59" width="1" height="1" fill="#E8C048" opacity="0.6"/>
<rect x="433.98" y="289.92" width="1" height="1" fill="#E8C048" opacity="0.6"/>
<rect x="454.30" y="281.10" width="1" height="1" fill="#E8C048" opacity="0.6"/>
<rect x="443.37" y="278.20" width="1" height="1" fill="#E8C048" opacity="0.6"/>
<rect x="441.64" y="292.05" width="1" height="1" fill="#E8C048" opacity="0.6"/>
<rect x="436.66" y="286.34" width="1" height="1" fill="#E8C048" opacity="0.6"/>
<rect x="439.33" y="286.95" width="1" height="1" fill="#E8C048" opacity="0.6"/>
<rect x="439.37" y="303.86" width="1" height="1" fill="#E8C048" opacity="0.6"/>
<rect x="453.15" y="294.09" width="1" height="1" fill="#E8C048" opacity="0.6"/>
<rect x="449.47" y="292.02" width="1" height="1" fill="#E8C048" opacity="0.6"/>
<rect x="434.89" y="306.00" width="1" height="1" fill="#E8C048" opacity="0.6"/>
<rect x="435.68" y="292.80" width="1" height="1" fill="#E8C048" opacity="0.6"/>
<rect x="444.96" y="301.36" width="1" height="1" fill="#E8C048" opacity="0.6"/>
<rect x="449.79" y="280.00" width="1" height="1" fill="#E8C048" opacity="0.6"/>
<rect x="448.86" y="292.38" width="1" height="1" fill="#E8C048" opacity="0.6"/>
<rect x="447.04" y="304.65" width="1" height="1" fill="#E8C048" opacity="0.6"/>
<rect x="445.22" y="303.44" width="1" height="1" fill="#E8C048" opacity="0.6"/>
<rect x="446.33" y="296.65" width="1" height="1" fill="#E8C048" opacity="0.6"/>
<rect x="439.84" y="289.24" width="1" height="1" fill="#E8C048" opacity="0.6"/>
<rect x="441.75" y="311.13" width="1" height="1" fill="#E8C048" opacity="0.6"/>
<rect x="444.30" y="294.08" width="1" height="1" fill="#E8C048" opacity="0.6"/>
<rect x="442.50" y="284.28" width="1" height="1" fill="#E8C048" opacity="0.6"/>
<rect x="440.39" y="306.01" width="1" height="1" fill="#E8C048" opacity="0.6"/>
<rect x="443.21" y="303.55" width="1" height="1" fill="#E8C048" opacity="0.6"/>
<rect x="437.37" y="298.27" width="1" height="1" fill="#E8C048" opacity="0.6"/>
<rect x="441.78" y="300.46" width="1" height="1" fill="#E8C048" opacity="0.6"/>
<rect x="448.48" y="276.70" width="1" height="1" fill="#E8C048" opacity="0.6"/>
<rect x="433.60" y="291.15" width="1" height="1" fill="#E8C048" opacity="0.6"/>
<rect x="435.67" y="280.02" width="1" height="1" fill="#E8C048" opacity="0.6"/>
<rect x="440.72" y="296.94" width="1" height="1" fill="#E8C048" opacity="0.6"/>
<rect x="438.97" y="290.94" width="1" height="1" fill="#E8C048" opacity="0.6"/>
<rect x="435.48" y="300.76" width="1" height="1" fill="#E8C048" opacity="0.6"/>
<rect x="452.64" y="299.24" width="1" height="1" fill="#E8C048" opacity="0.6"/>
<rect x="452.16" y="290.70" width="1" height="1" fill="#E8C048" opacity="0.6"/>
<rect x="441.31" y="302.90" width="1" height="1" fill="#E8C048" opacity="0.6"/>
<rect x="437.54" y="280.36" width="1" height="1" fill="#E8C048" opacity="0.6"/>
<rect x="437.74" y="299.00" width="1" height="1" fill="#E8C048" opacity="0.6"/>
<rect x="449.88" y="299.76" width="1" height="1" fill="#E8C048" opacity="0.6"/>
<rect x="441.29" y="291.85" width="1" height="1" fill="#E8C048" opacity="0.6"/>
<rect x="435.76" y="293.93" width="1" height="1" fill="#E8C048" opacity="0.6"/>
<rect x="451.25" y="298.23" width="1" height="1" fill="#E8C048" opacity="0.6"/>
<rect x="448.45" y="296.19" width="1" height="1" fill="#E8C048" opacity="0.6"/>
<rect x="435.65" y="299.66" width="1" height="1" fill="#E8C048" opacity="0.6"/>
<rect x="441.34" y="280.58" width="1" height="1" fill="#E8C048" opacity="0.6"/>
<rect x="444.95" y="294.39" width="1" height="1" fill="#E8C048" opacity="0.6"/>
<rect x="442.24" y="297.40" width="1" height="1" fill="#E8C048" opacity="0.6"/>
<rect x="445.68" y="289.39" width="1" height="1" fill="#E8C048" opacity="0.6"/>
<rect x="448.57" y="292.06" width="1" height="1" fill="#E8C048" opacity="0.6"/>
<rect x="444.03" y="287.89" width="1" height="1" fill="#E8C048" opacity="0.6"/>
<rect x="435.87" y="290.45" width="1" height="1" fill="#E8C048" opacity="0.6"/>
<rect x="442.14" y="290.26" width="1" height="1" fill="#E8C048" opacity="0.6"/>
<rect x="446.03" y="289.61" width="1" height="1" fill="#E8C048" opacity="0.6"/>
<rect x="448.85" y="298.34" width="1" height="1" fill="#E8C048" opacity="0.6"/>
<rect x="443.38" y="289.78" width="1" height="1" fill="#E8C048" opacity="0.6"/>
<rect x="436.02" y="301.08" width="1" height="1" fill="#E8C048" opacity="0.6"/>
<rect x="443.12" y="310.30" width="1" height="1" fill="#E8C048" opacity="0.6"/>
<rect x="454.30" y="303.85" width="1" height="1" fill="#E8C048" opacity="0.6"/>
<rect x="451.62" y="301.15" width="1" height="1" fill="#E8C048" opacity="0.6"/>
<rect x="451.91" y="299.03" width="1" height="1" fill="#E8C048" opacity="0.6"/>
<rect x="448.42" y="293.52" width="1" height="1" fill="#E8C048" opacity="0.6"/>
<rect x="438.80" y="300.40" width="1" height="1" fill="#E8C048" opacity="0.6"/>
<rect x="445.99" y="303.31" width="1" height="1" fill="#E8C048" opacity="0.6"/>
<rect x="439.68" y="295.48" width="1" height="1" fill="#E8C048" opacity="0.6"/>
<rect x="436.52" y="291.39" width="1" height="1" fill="#E8C048" opacity="0.6"/>
<rect x="434.66" y="284.87" width="1" height="1" fill="#E8C048" opacity="0.6"/>
<rect x="435.60" y="298.99" width="1" height="1" fill="#E8C048" opacity="0.6"/>
<rect x="440.50" y="297.12" width="1" height="1" fill="#E8C048" opacity="0.6"/>
<rect x="441.29" y="281.55" width="1" height="1" fill="#E8C048" opacity="0.6"/>
<rect x="440.21" y="313.33" width="1" height="1" fill="#E8C048" opacity="0.6"/>
<rect x="442.03" y="286.68" width="1" height="1" fill="#E8C048" opacity="0.6"/>
<rect x="449.19" y="283.09" width="1" height="1" fill="#E8C048" opacity="0.6"/>
<rect x="448.17" y="291.33" width="1" height="1" fill="#E8C048" opacity="0.6"/>
<rect x="438.37" y="299.43" width="1" height="1" fill="#E8C048" opacity="0.6"/>
<line x1="443.80" y1="276.20" x2="443.80" y2="288.60" stroke="#E6B82E" stroke-width="1.1"/>
<line x1="443.80" y1="303.20" x2="443.80" y2="318.40" stroke="#E6B82E" stroke-width="1.1"/>
<rect x="432.20" y="288.60" width="23.10" height="14.60" fill="none" stroke="#E6B82E" stroke-width="1.0"/>
<line x1="432.20" y1="294.50" x2="455.30" y2="294.50" stroke="#E6B82E" stroke-width="1.8"/>
<line x1="487.20" y1="323.1" x2="487.20" y2="326" stroke="#222" stroke-width="1"/>
<rect x="486.10" y="308.29" width="1" height="1" fill="#5A78B4" opacity="0.6"/>
<rect x="483.51" y="281.10" width="1" height="1" fill="#5A78B4" opacity="0.6"/>
<rect x="479.34" y="296.72" width="1" height="1" fill="#5A78B4" opacity="0.6"/>
<rect x="477.15" y="293.27" width="1" height="1" fill="#5A78B4" opacity="0.6"/>
<rect x="478.83" y="289.04" width="1" height="1" fill="#5A78B4" opacity="0.6"/>
<rect x="488.37" y="287.18" width="1" height="1" fill="#5A78B4" opacity="0.6"/>
<rect x="484.31" y="308.54" width="1" height="1" fill="#5A78B4" opacity="0.6"/>
<rect x="490.33" y="306.41" width="1" height="1" fill="#5A78B4" opacity="0.6"/>
<rect x="486.64" y="278.53" width="1" height="1" fill="#5A78B4" opacity="0.6"/>
<rect x="485.10" y="280.26" width="1" height="1" fill="#5A78B4" opacity="0.6"/>
<rect x="486.35" y="301.77" width="1" height="1" fill="#5A78B4" opacity="0.6"/>
<rect x="492.03" y="281.63" width="1" height="1" fill="#5A78B4" opacity="0.6"/>
<rect x="477.87" y="287.37" width="1" height="1" fill="#5A78B4" opacity="0.6"/>
<rect x="487.14" y="307.52" width="1" height="1" fill="#5A78B4" opacity="0.6"/>
<rect x="483.34" y="279.40" width="1" height="1" fill="#5A78B4" opacity="0.6"/>
<rect x="495.71" y="301.42" width="1" height="1" fill="#5A78B4" opacity="0.6"/>
<rect x="486.59" y="299.39" width="1" height="1" fill="#5A78B4" opacity="0.6"/>
<rect x="486.44" y="276.92" width="1" height="1" fill="#5A78B4" opacity="0.6"/>
<rect x="481.35" y="285.50" width="1" height="1" fill="#5A78B4" opacity="0.6"/>
<rect x="491.69" y="288.76" width="1" height="1" fill="#5A78B4" opacity="0.6"/>
<rect x="490.70" y="277.21" width="1" height="1" fill="#5A78B4" opacity="0.6"/>
<rect x="485.42" y="291.86" width="1" height="1" fill="#5A78B4" opacity="0.6"/>
<rect x="483.20" y="274.55" width="1" height="1" fill="#5A78B4" opacity="0.6"/>
<rect x="486.02" y="300.08" width="1" height="1" fill="#5A78B4" opacity="0.6"/>
<rect x="487.03" y="301.24" width="1" height="1" fill="#5A78B4" opacity="0.6"/>
<rect x="495.59" y="294.56" width="1" height="1" fill="#5A78B4" opacity="0.6"/>
<rect x="494.91" y="279.00" width="1" height="1" fill="#5A78B4" opacity="0.6"/>
<rect x="494.85" y="287.40" width="1" height="1" fill="#5A78B4" opacity="0.6"/>
<rect x="491.72" y="273.49" width="1" height="1" fill="#5A78B4" opacity="0.6"/>
<rect x="480.03" y="267.28" width="1" height="1" fill="#5A78B4" opacity="0.6"/>
<rect x="485.60" y="299.24" width="1" height="1" fill="#5A78B4" opacity="0.6"/>
<rect x="495.43" y="299.60" width="1" height="1" fill="#5A78B4" opacity="0.6"/>
<rect x="478.83" y="284.38" width="1" height="1" fill="#5A78B4" opacity="0.6"/>
<rect x="485.30" y="304.57" width="1" height="1" fill="#5A78B4" opacity="0.6"/>
<rect x="490.55" y="284.59" width="1" height="1" fill="#5A78B4" opacity="0.6"/>
<rect x="492.21" y="271.45" width="1" height="1" fill="#5A78B4" opacity="0.6"/>
<rect x="493.09" y="295.61" width="1" height="1" fill="#5A78B4" opacity="0.6"/>
<rect x="490.34" y="314.98" width="1" height="1" fill="#5A78B4" opacity="0.6"/>
<rect x="488.57" y="315.66" width="1" height="1" fill="#5A78B4" opacity="0.6"/>
<rect x="480.43" y="275.33" width="1" height="1" fill="#5A78B4" opacity="0.6"/>
<rect x="491.07" y="308.97" width="1" height="1" fill="#5A78B4" opacity="0.6"/>
<rect x="485.18" y="288.53" width="1" height="1" fill="#5A78B4" opacity="0.6"/>
<rect x="482.35" y="287.65" width="1" height="1" fill="#5A78B4" opacity="0.6"/>
<rect x="491.89" y="299.64" width="1" height="1" fill="#5A78B4" opacity="0.6"/>
<rect x="489.21" y="279.54" width="1" height="1" fill="#5A78B4" opacity="0.6"/>
<rect x="492.47" y="279.83" width="1" height="1" fill="#5A78B4" opacity="0.6"/>
<rect x="493.94" y="287.08" width="1" height="1" fill="#5A78B4" opacity="0.6"/>
<rect x="480.11" y="295.64" width="1" height="1" fill="#5A78B4" opacity="0.6"/>
<rect x="491.94" y="286.87" width="1" height="1" fill="#5A78B4" opacity="0.6"/>
<rect x="486.84" y="306.23" width="1" height="1" fill="#5A78B4" opacity="0.6"/>
<rect x="480.39" y="295.31" width="1" height="1" fill="#5A78B4" opacity="0.6"/>
<rect x="493.34" y="288.93" width="1" height="1" fill="#5A78B4" opacity="0.6"/>
<rect x="482.37" y="297.40" width="1" height="1" fill="#5A78B4" opacity="0.6"/>
<rect x="486.67" y="293.93" width="1" height="1" fill="#5A78B4" opacity="0.6"/>
<rect x="478.32" y="293.04" width="1" height="1" fill="#5A78B4" opacity="0.6"/>
<rect x="483.77" y="269.93" width="1" height="1" fill="#5A78B4" opacity="0.6"/>
<rect x="494.51" y="289.60" width="1" height="1" fill="#5A78B4" opacity="0.6"/>
<rect x="477.20" y="296.62" width="1" height="1" fill="#5A78B4" opacity="0.6"/>
<rect x="494.72" y="287.74" width="1" height="1" fill="#5A78B4" opacity="0.6"/>
<rect x="494.38" y="289.39" width="1" height="1" fill="#5A78B4" opacity="0.6"/>
<rect x="487.33" y="290.54" width="1" height="1" fill="#5A78B4" opacity="0.6"/>
<rect x="486.82" y="282.62" width="1" height="1" fill="#5A78B4" opacity="0.6"/>
<rect x="479.81" y="288.64" width="1" height="1" fill="#5A78B4" opacity="0.6"/>
<rect x="482.81" y="272.77" width="1" height="1" fill="#5A78B4" opacity="0.6"/>
<rect x="492.17" y="290.23" width="1" height="1" fill="#5A78B4" opacity="0.6"/>
<rect x="490.22" y="273.28" width="1" height="1" fill="#5A78B4" opacity="0.6"/>
<rect x="486.92" y="301.49" width="1" height="1" fill="#5A78B4" opacity="0.6"/>
<rect x="493.57" y="293.98" width="1" height="1" fill="#5A78B4" opacity="0.6"/>
<rect x="481.65" y="286.21" width="1" height="1" fill="#5A78B4" opacity="0.6"/>
<rect x="479.92" y="291.41" width="1" height="1" fill="#5A78B4" opacity="0.6"/>
<rect x="496.20" y="286.69" width="1" height="1" fill="#5A78B4" opacity="0.6"/>
<rect x="495.95" y="299.66" width="1" height="1" fill="#5A78B4" opacity="0.6"/>
<rect x="496.38" y="289.46" width="1" height="1" fill="#5A78B4" opacity="0.6"/>
<rect x="486.20" y="310.96" width="1" height="1" fill="#5A78B4" opacity="0.6"/>
<rect x="478.84" y="293.06" width="1" height="1" fill="#5A78B4" opacity="0.6"/>
<rect x="477.38" y="289.51" width="1" height="1" fill="#5A78B4" opacity="0.6"/>
<rect x="490.57" y="295.23" width="1" height="1" fill="#5A78B4" opacity="0.6"/>
<rect x="485.97" y="292.98" width="1" height="1" fill="#5A78B4" opacity="0.6"/>
<rect x="484.79" y="292.57" width="1" height="1" fill="#5A78B4" opacity="0.6"/>
<rect x="490.70" y="277.64" width="1" height="1" fill="#5A78B4" opacity="0.6"/>
<rect x="487.67" y="277.86" width="1" height="1" fill="#5A78B4" opacity="0.6"/>
<rect x="487.75" y="311.69" width="1" height="1" fill="#5A78B4" opacity="0.6"/>
<rect x="483.94" y="271.57" width="1" height="1" fill="#5A78B4" opacity="0.6"/>
<rect x="489.27" y="288.44" width="1" height="1" fill="#5A78B4" opacity="0.6"/>
<rect x="492.35" y="289.96" width="1" height="1" fill="#5A78B4" opacity="0.6"/>
<rect x="484.36" y="274.66" width="1" height="1" fill="#5A78B4" opacity="0.6"/>
<rect x="489.13" y="290.46" width="1" height="1" fill="#5A78B4" opacity="0.6"/>
<rect x="495.30" y="293.59" width="1" height="1" fill="#5A78B4" opacity="0.6"/>
<rect x="492.26" y="293.29" width="1" height="1" fill="#5A78B4" opacity="0.6"/>
<rect x="496.19" y="290.96" width="1" height="1" fill="#5A78B4" opacity="0.6"/>
<rect x="479.92" y="291.72" width="1" height="1" fill="#5A78B4" opacity="0.6"/>
<rect x="484.71" y="305.79" width="1" height="1" fill="#5A78B4" opacity="0.6"/>
<rect x="487.52" y="292.16" width="1" height="1" fill="#5A78B4" opacity="0.6"/>
<rect x="486.21" y="272.99" width="1" height="1" fill="#5A78B4" opacity="0.6"/>
<rect x="486.07" y="278.21" width="1" height="1" fill="#5A78B4" opacity="0.6"/>
<rect x="480.74" y="310.21" width="1" height="1" fill="#5A78B4" opacity="0.6"/>
<rect x="483.81" y="297.98" width="1" height="1" fill="#5A78B4" opacity="0.6"/>
<rect x="484.69" y="287.90" width="1" height="1" fill="#5A78B4" opacity="0.6"/>
<rect x="485.11" y="289.94" width="1" height="1" fill="#5A78B4" opacity="0.6"/>
<rect x="484.59" y="304.94" width="1" height="1" fill="#5A78B4" opacity="0.6"/>
<rect x="495.50" y="294.53" width="1" height="1" fill="#5A78B4" opacity="0.6"/>
<rect x="492.73" y="287.11" width="1" height="1" fill="#5A78B4" opacity="0.6"/>
<rect x="479.29" y="287.01" width="1" height="1" fill="#5A78B4" opacity="0.6"/>
<rect x="489.03" y="299.39" width="1" height="1" fill="#5A78B4" opacity="0.6"/>
<rect x="481.22" y="291.98" width="1" height="1" fill="#5A78B4" opacity="0.6"/>
<rect x="482.82" y="274.33" width="1" height="1" fill="#5A78B4" opacity="0.6"/>
<rect x="488.74" y="305.93" width="1" height="1" fill="#5A78B4" opacity="0.6"/>
<rect x="479.20" y="291.79" width="1" height="1" fill="#5A78B4" opacity="0.6"/>
<rect x="481.33" y="278.08" width="1" height="1" fill="#5A78B4" opacity="0.6"/>
<rect x="481.77" y="289.34" width="1" height="1" fill="#5A78B4" opacity="0.6"/>
<rect x="476.75" y="286.64" width="1" height="1" fill="#5A78B4" opacity="0.6"/>
<rect x="486.04" y="311.14" width="1" height="1" fill="#5A78B4" opacity="0.6"/>
<rect x="485.27" y="290.81" width="1" height="1" fill="#5A78B4" opacity="0.6"/>
<rect x="484.40" y="300.75" width="1" height="1" fill="#5A78B4" opacity="0.6"/>
<rect x="487.64" y="281.03" width="1" height="1" fill="#5A78B4" opacity="0.6"/>
<rect x="482.30" y="309.98" width="1" height="1" fill="#5A78B4" opacity="0.6"/>
<rect x="489.36" y="295.80" width="1" height="1" fill="#5A78B4" opacity="0.6"/>
<rect x="495.74" y="284.16" width="1" height="1" fill="#5A78B4" opacity="0.6"/>
<rect x="492.29" y="279.60" width="1" height="1" fill="#5A78B4" opacity="0.6"/>
<rect x="491.37" y="314.09" width="1" height="1" fill="#5A78B4" opacity="0.6"/>
<rect x="488.01" y="314.85" width="1" height="1" fill="#5A78B4" opacity="0.6"/>
<rect x="488.74" y="272.56" width="1" height="1" fill="#5A78B4" opacity="0.6"/>
<rect x="487.32" y="293.84" width="1" height="1" fill="#5A78B4" opacity="0.6"/>
<rect x="478.07" y="267.44" width="1" height="1" fill="#5A78B4" opacity="0.6"/>
<rect x="486.40" y="301.32" width="1" height="1" fill="#5A78B4" opacity="0.6"/>
<rect x="477.87" y="291.00" width="1" height="1" fill="#5A78B4" opacity="0.6"/>
<rect x="486.53" y="286.05" width="1" height="1" fill="#5A78B4" opacity="0.6"/>
<rect x="493.96" y="291.66" width="1" height="1" fill="#5A78B4" opacity="0.6"/>
<rect x="486.06" y="295.94" width="1" height="1" fill="#5A78B4" opacity="0.6"/>
<rect x="482.32" y="300.65" width="1" height="1" fill="#5A78B4" opacity="0.6"/>
<rect x="495.91" y="289.95" width="1" height="1" fill="#5A78B4" opacity="0.6"/>
<rect x="489.42" y="293.05" width="1" height="1" fill="#5A78B4" opacity="0.6"/>
<rect x="490.35" y="292.66" width="1" height="1" fill="#5A78B4" opacity="0.6"/>
<rect x="480.54" y="270.07" width="1" height="1" fill="#5A78B4" opacity="0.6"/>
<rect x="494.65" y="290.88" width="1" height="1" fill="#5A78B4" opacity="0.6"/>
<rect x="489.21" y="294.20" width="1" height="1" fill="#5A78B4" opacity="0.6"/>
<rect x="484.02" y="296.24" width="1" height="1" fill="#5A78B4" opacity="0.6"/>
<rect x="492.11" y="291.46" width="1" height="1" fill="#5A78B4" opacity="0.6"/>
<rect x="485.15" y="290.18" width="1" height="1" fill="#5A78B4" opacity="0.6"/>
<rect x="488.85" y="281.82" width="1" height="1" fill="#5A78B4" opacity="0.6"/>
<rect x="486.83" y="287.86" width="1" height="1" fill="#5A78B4" opacity="0.6"/>
<rect x="482.20" y="279.75" width="1" height="1" fill="#5A78B4" opacity="0.6"/>
<rect x="482.68" y="288.50" width="1" height="1" fill="#5A78B4" opacity="0.6"/>
<rect x="481.48" y="272.49" width="1" height="1" fill="#5A78B4" opacity="0.6"/>
<rect x="494.41" y="294.26" width="1" height="1" fill="#5A78B4" opacity="0.6"/>
<rect x="482.71" y="284.71" width="1" height="1" fill="#5A78B4" opacity="0.6"/>
<rect x="495.13" y="286.70" width="1" height="1" fill="#5A78B4" opacity="0.6"/>
<rect x="482.36" y="274.43" width="1" height="1" fill="#5A78B4" opacity="0.6"/>
<rect x="481.94" y="272.30" width="1" height="1" fill="#5A78B4" opacity="0.6"/>
<rect x="484.70" y="279.80" width="1" height="1" fill="#5A78B4" opacity="0.6"/>
<line x1="487.20" y1="264.30" x2="487.20" y2="283.50" stroke="#4464A4" stroke-width="1.1"/>
<line x1="487.20" y1="299.70" x2="487.20" y2="318.30" stroke="#4464A4" stroke-width="1.1"/>
<rect x="475.80" y="283.50" width="22.30" height="16.20" fill="none" stroke="#4464A4" stroke-width="1.0"/>
<line x1="475.80" y1="291.80" x2="498.10" y2="291.80" stroke="#4464A4" stroke-width="1.8"/>
<text transform="translate(403.10,331.3) rotate(-45)" font-size="7.9" text-anchor="end" style="fill:#5E3C88;stroke:#5E3C88">RS-AML</text>
<text transform="translate(446.70,331.3) rotate(-45)" font-size="7.9" text-anchor="end" style="fill:#E6B82E;stroke:#E6B82E">non-RS-AML</text>
<text transform="translate(490.10,331.3) rotate(-45)" font-size="7.9" text-anchor="end" style="fill:#4464A4;stroke:#4464A4">NBM</text>
</g></svg></body></html>
